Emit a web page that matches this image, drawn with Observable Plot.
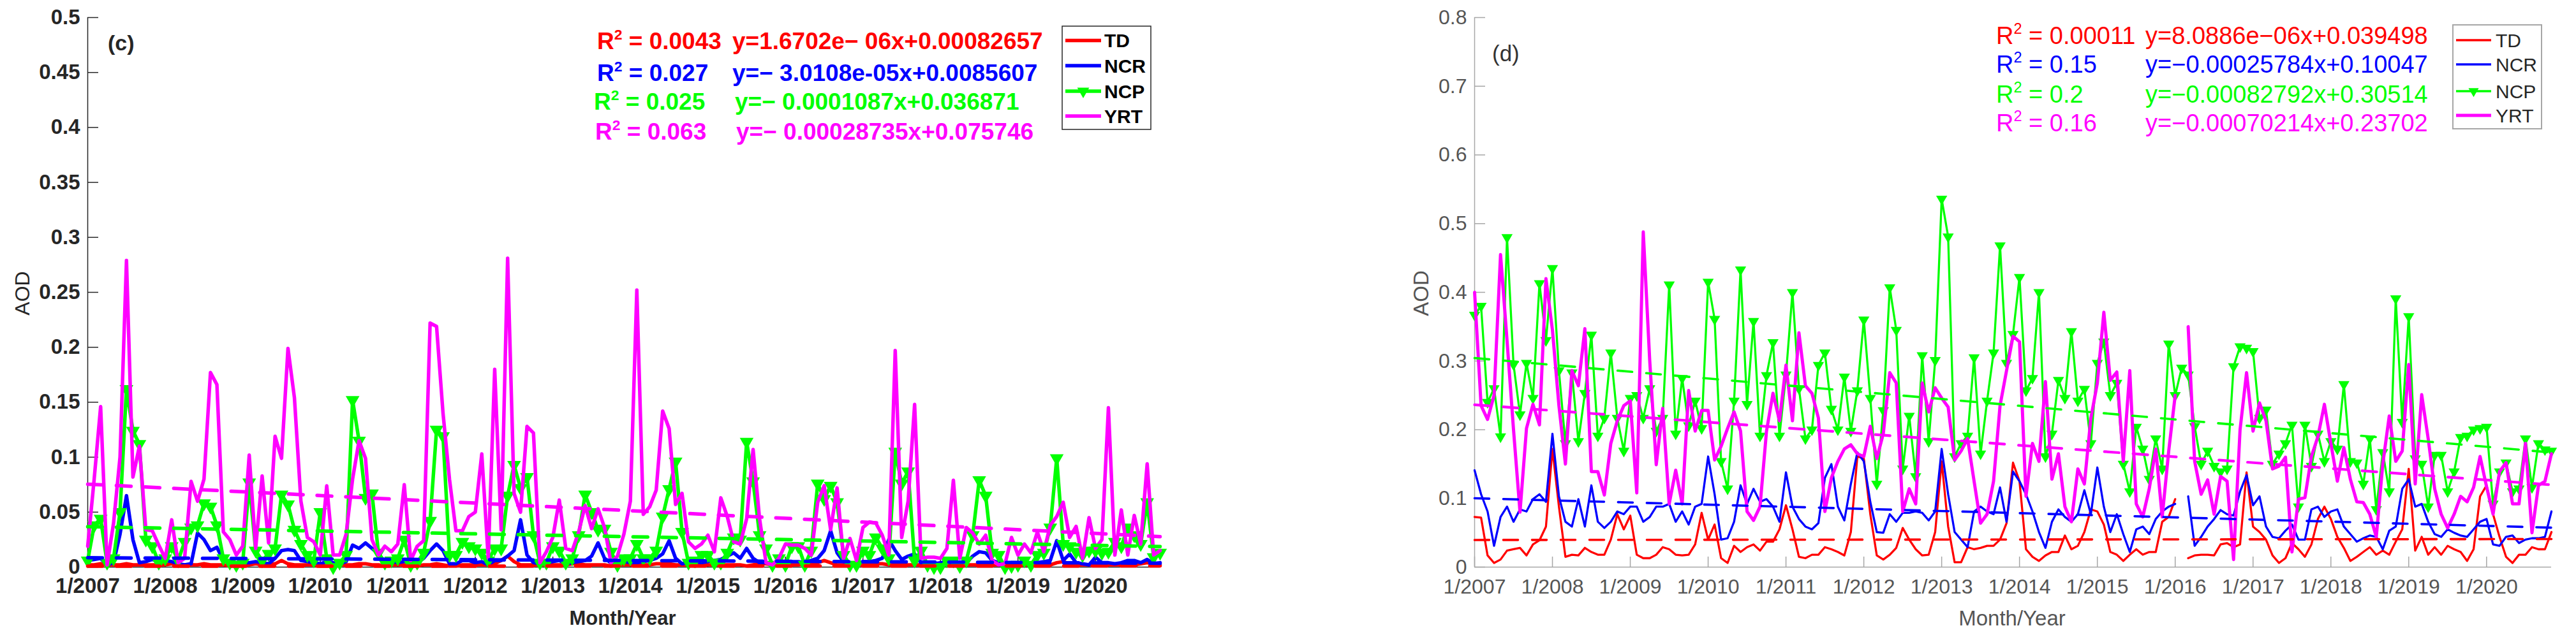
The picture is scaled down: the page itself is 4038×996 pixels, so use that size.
<!DOCTYPE html>
<html><head><meta charset="utf-8">
<script src="https://cdn.jsdelivr.net/npm/d3@7"></script>
<script src="https://cdn.jsdelivr.net/npm/@observablehq/plot@0.6"></script>
<style>
body{margin:0;background:#fff;}
#root{position:relative;width:4038px;height:996px;overflow:hidden;background:#fff;}
</style></head><body><div id="root"></div><script>
// ---------- DATA ----------
const series = ["TD","NCR","NCP","YRT"];
const colors = ["#ff0000","#0000ff","#00ff00","#ff00ff"];
const tickLabels = ["1/2007","1/2008","1/2009","1/2010","1/2011","1/2012","1/2013","1/2014","1/2015","1/2016","1/2017","1/2018","1/2019","1/2020"];
const xTickPos = [0,12,24,36,48,60,72,84,96,108,120,132,144,156];
const yTicksC = [0,0.05,0.1,0.15,0.2,0.25,0.3,0.35,0.4,0.45,0.5];
const yTicksD = [0,0.1,0.2,0.3,0.4,0.5,0.6,0.7,0.8];

// panel (c) monthly AOD, Jan 2007 .. Nov 2020
const tdC = [
.002,.002,.003,.002,.002,.002,.003,.002,.002,.002,.002,.002,
.002,.003,.002,.002,.002,.002,.003,.002,.002,.002,.001,.002,
.002,.002,.003,.002,.002,.003,.006,.003,.002,.002,.002,.002,
.001,.001,.002,.002,.002,.002,.003,.003,.002,.002,.001,.002,
.002,.002,.002,.001,.002,.002,.003,.002,.001,.001,.002,.002,
.002,.002,.002,.003,.006,.010,.005,.002,.002,.002,.002,.002,
.002,.002,.002,.003,.003,.002,.002,.002,.002,.001,.002,.002,
.002,.002,.002,.002,.003,.003,.003,.002,.002,.002,.001,.002,
.002,.002,.002,.002,.002,.002,.001,.002,.003,.003,.002,.002,
.002,.002,.002,.003,.003,.004,.006,.004,.002,.002,.002,.002,
.002,.002,.003,.003,.002,.002,.002,.002,.002,.002,.002,.002,
.002,.002,.002,.002,.002,.002,.002,.002,.002,.002,.002,.002,
.002,.002,.002,.002,.002,.002,.004,.005,.003,.002,.002,.002,
.002,.002,.002,.002,.002,.002,.002,.003,.004,.003,.002];
const ncrC = [
.006,.007,.008,.002,.004,.030,.065,.025,.004,.005,.007,.005,
.006,.005,.003,.002,.003,.031,.025,.015,.018,.006,.004,.003,
.004,.004,.005,.004,.003,.008,.015,.016,.015,.006,.005,.004,
.003,.005,.004,.003,.005,.020,.017,.022,.017,.012,.004,.005,
.004,.005,.006,.004,.008,.015,.021,.015,.003,.003,.006,.006,
.004,.005,.002,.006,.006,.010,.015,.043,.011,.004,.003,.004,
.005,.006,.003,.004,.005,.006,.010,.022,.008,.004,.004,.005,
.004,.004,.005,.006,.008,.012,.024,.008,.003,.004,.005,.004,
.005,.006,.007,.010,.013,.008,.017,.008,.004,.004,.003,.004,
.005,.005,.005,.004,.006,.008,.015,.033,.013,.005,.004,.003,
.005,.005,.006,.008,.025,.015,.007,.010,.012,.004,.003,.003,
.004,.005,.004,.003,.004,.010,.014,.013,.006,.004,.003,.004,
.003,.004,.003,.004,.005,.006,.024,.006,.012,.004,.003,.002,
.009,.004,.004,.003,.004,.006,.006,.004,.007,.003,.004];
const ncpC = [
.006,.038,.044,.004,.008,.050,.162,.124,.112,.025,.019,.004,
.008,.019,.006,.023,.036,.038,.058,.055,.038,.008,.004,.002,
.004,.077,.015,.006,.012,.017,.066,.057,.034,.021,.011,.006,
.050,.008,.000,.004,.011,.152,.115,.063,.067,.013,.004,.006,
.008,.025,.002,.004,.013,.042,.125,.119,.011,.011,.023,.019,
.017,.013,.006,.017,.017,.065,.093,.072,.082,.029,.004,.004,
.019,.015,.004,.008,.029,.066,.050,.034,.035,.014,.002,.008,
.008,.021,.008,.008,.015,.046,.071,.096,.032,.004,.006,.011,
.011,.004,.004,.013,.027,.025,.114,.078,.029,.017,.002,.008,
.002,.019,.019,.002,.015,.076,.062,.074,.059,.011,.002,.002,
.015,.011,.027,.017,.008,.105,.076,.087,.006,.015,.002,.000,
.000,.006,.006,.001,.006,.029,.079,.065,.013,.011,.000,.001,
.002,.006,.002,.011,.013,.036,.099,.021,.019,.014,.011,.015,
.015,.013,.014,.023,.019,.036,.029,.021,.059,.009,.013];
const yrtC = [
.019,.080,.146,.002,.040,.100,.279,.082,.110,.034,.033,.020,
.008,.043,.004,.008,.078,.060,.080,.177,.166,.032,.025,.011,
.019,.102,.017,.083,.022,.119,.099,.199,.154,.060,.027,.023,
.011,.074,.011,.011,.030,.080,.115,.099,.025,.011,.019,.014,
.021,.075,.006,.019,.024,.222,.219,.140,.080,.033,.033,.046,
.050,.103,.008,.180,.034,.281,.067,.050,.128,.122,.004,.014,
.027,.061,.017,.015,.032,.056,.035,.053,.036,.004,.010,.030,
.060,.252,.048,.055,.070,.142,.126,.057,.067,.023,.017,.021,
.029,.014,.063,.046,.023,.021,.044,.107,.044,.004,.002,.008,
.021,.020,.020,.017,.011,.059,.074,.034,.072,.008,.026,.006,
.036,.041,.040,.029,.011,.197,.027,.060,.148,.008,.009,.009,
.008,.017,.079,.008,.036,.031,.021,.029,.006,.002,.003,.027,
.011,.021,.013,.032,.014,.038,.046,.059,.027,.037,.008,.045,
.017,.025,.145,.011,.052,.011,.047,.021,.094,.011,.015];

// panel (d) monthly AOD, Jan 2007 .. Nov 2020 (null = missing)
const tdD = [
.073,.072,.017,.006,.011,.024,.026,.028,.017,.033,.039,.059,
.172,.088,.015,.018,.017,.028,.022,.018,.018,.040,.077,.055,
.075,.018,.013,.013,.018,.029,.026,.018,.017,.018,.033,.079,
.040,.062,.013,.006,.031,.022,.029,.033,.024,.037,.037,.055,
.090,.055,.015,.013,.018,.018,.029,.026,.022,.017,.051,.161,
.158,.077,.017,.011,.018,.028,.057,.040,.026,.017,.018,.051,
.154,.059,.007,.007,.029,.026,.028,.031,.031,.040,.064,.152,
.125,.026,.015,.009,.017,.022,.022,.046,.026,.031,.051,.084,
.081,.062,.022,.018,.009,.018,.026,.018,.022,.022,.066,.073,
.099,null,.013,.017,.018,.018,.017,.033,.035,.029,.033,.138,
.059,.051,.040,.017,.006,.013,.035,.026,.015,.033,.070,.088,
.070,.044,.028,.009,.015,.022,.029,.018,.024,.018,.037,.055,
.143,.024,.044,.018,.029,.018,.031,.026,.022,.009,.026,.103,
.119,.077,.044,.015,.006,.018,.018,.029,.026,.026,.051];
const ncrD = [
.141,.106,.081,.031,.073,.088,.066,.084,.081,.099,.106,.095,
.194,.103,.066,.059,.099,.059,.119,.066,.057,.066,.081,.077,
.088,.088,.066,.073,.088,.088,.092,.066,.081,.062,.088,.092,
.161,.106,.040,.042,.066,.119,.092,.114,.095,.099,.088,.066,
.138,.088,.070,.059,.055,.064,.130,.150,.088,.068,.121,.167,
.154,.095,.051,.050,.077,.066,.079,.079,.081,.079,.068,.081,
.172,.106,.051,.040,.029,.081,.088,.081,.077,.116,.066,.139,
.125,.106,.081,.051,.028,.066,.084,.073,.066,.077,.112,.077,
.145,.088,.051,.077,.048,.022,.055,.059,.048,.070,.081,.088,
.092,null,.103,.031,.044,.059,.070,.083,.077,.075,.110,.134,
.090,.103,.059,.044,.042,.053,.062,.040,.040,.084,.088,.073,
.081,.084,.059,.048,.037,.042,.046,.044,.026,.053,.059,.114,
.128,.088,.092,.066,.048,.044,.055,.050,.046,.044,.055,.066,
.070,.033,.031,.044,.046,.035,.040,.042,.042,.044,.081];
const ncpD = [
.367,.380,.240,.260,.190,.480,.295,.222,.297,.246,.413,.330,
.435,.286,.180,.283,.183,.253,.338,.191,.217,.312,.217,.169,
.246,.250,.217,.260,.198,.217,.411,.194,.275,.206,.242,.202,
.415,.361,.154,.114,.242,.433,.237,.358,.191,.279,.327,.191,
.280,.400,.260,.187,.200,.294,.312,.230,.200,.277,.198,.257,
.360,.246,.121,.228,.407,.345,.143,.220,.132,.308,.183,.301,
.536,.481,.161,.180,.191,.305,.165,.242,.312,.468,.297,.339,
.422,.257,.275,.400,.161,.194,.272,.246,.343,.242,.259,.180,
.297,.328,.250,.268,.150,.110,.204,.172,.128,.187,.143,.325,
.250,.290,.280,.205,.150,.169,.147,.139,.143,.292,.321,.319,
.314,.217,.229,.150,.165,.180,.207,.088,.207,.147,.194,.154,
.183,.172,.266,.154,.152,.121,.187,.084,.167,.110,.391,.211,
.365,.158,.150,.088,.163,.163,.110,.139,.189,.191,.200,.202,
.204,.092,.139,.152,.110,.114,.187,.116,.180,.171,.169];
const yrtD = [
.400,.235,.215,.250,.455,.330,.200,.080,.202,.237,.207,.420,
.345,.235,.150,.286,.264,.347,.139,.139,.105,.180,.213,.235,
.242,.108,.488,.300,.149,.231,.092,.141,.092,.257,.198,.228,
.228,.156,.176,.202,.226,.198,.081,.068,.088,.198,.253,.213,
.294,.213,.341,.264,.253,.217,.081,.130,.154,.172,.178,.165,
.161,.205,.158,.194,.283,.268,.081,.114,.092,.268,.226,.261,
.246,.233,.156,.169,.187,.125,.064,.077,.125,.235,.286,.336,
.328,.103,.180,.154,.270,.128,.165,.088,.066,.143,.121,.217,
.268,.371,.272,.284,.154,.286,.092,.073,.114,.172,.073,.169,
.250,null,.350,.154,.106,.127,.077,.132,.125,.011,.200,.283,
.198,.239,.213,.143,.147,.160,.022,.099,.101,.161,.190,.237,
.180,.125,.174,.128,.095,.094,.077,.044,.150,.220,.154,.169,
.295,.121,.251,.187,.114,.077,.057,.077,.103,.095,.116,.161,
.117,.077,.139,.152,.092,.092,.180,.050,.119,.125,.165];

// linear fits y = a*x + b (x = month number 1..167)
const slopeC = [1.6702e-06, -3.0108e-05, -0.0001087, -0.00028735];
const interceptC = [0.00082657, 0.0085607, 0.036871, 0.075746];
const slopeD = [8.0886e-06, -0.00025784, -0.00082792, -0.00070214];
const interceptD = [0.039498, 0.10047, 0.30514, 0.23702];
const r2TextC = ["0.0043","0.027","0.025","0.063"];
const eqTextC = ["y=1.6702e\u2212 06x+0.00082657","y=\u2212 3.0108e-05x+0.0085607","y=\u2212 0.0001087x+0.036871","y=\u2212 0.00028735x+0.075746"];
const r2TextD = ["0.00011","0.15","0.2","0.16"];
const eqTextD = ["y=8.0886e\u221206x+0.039498","y=\u22120.00025784x+0.10047","y=\u22120.00082792x+0.30514","y=\u22120.00070214x+0.23702"];

// ---------- DRAW ----------
const FONT = "'Liberation Sans', Arial, Helvetica, sans-serif";
const root = document.getElementById("root");
const rows = arr => arr.map((v,i)=>({m:i, v}));
const N = 167;

function panel({left, width, x0, x1, top, bottom, ymax, yTicks, data, slope, intercept, axisColor, textColor, fontSize, fontWeight, xPad, lw, dashW, triR}) {
  const mL = x0 - left, mR = left + width - x1;
  const plotW = x1 - x0, plotH = bottom - top;
  const marks = [];
  marks.push(Plot.axisY(yTicks, {tickSize: 0, tickPadding: 12, tickFormat: d => String(d), label: null}));
  marks.push(Plot.axisX(xTickPos, {tickSize: 0, tickPadding: xPad, tickFormat: d => tickLabels[xTickPos.indexOf(d)], label: null}));
  marks.push(Plot.ruleX([0], {stroke: axisColor, strokeWidth: 1.5}));
  marks.push(Plot.ruleY([0], {stroke: axisColor, strokeWidth: 1.5}));
  marks.push(Plot.tickY(yTicks, {y: d => d, stroke: axisColor, strokeWidth: 1.5, insetRight: plotW - 17}));
  marks.push(Plot.tickX(xTickPos, {x: d => d, stroke: axisColor, strokeWidth: 1.5, insetTop: plotH - 16}));
  data.forEach((arr, i) => {
    marks.push(Plot.line(rows(arr), {x: "m", y: "v", stroke: colors[i], strokeWidth: lw[i], strokeLinejoin: "round", strokeLinecap: "round"}));
    if (series[i] === "NCP") marks.push(Plot.dot(rows(arr), {x: "m", y: "v", symbol: "triangle", rotate: 180, r: triR, fill: colors[i], stroke: "none"}));
  });
  data.forEach((arr, i) => {
    const ends = [0, N - 1].map(m => ({m, v: intercept[i] + slope[i] * (m + 1)}));
    marks.push(Plot.line(ends, {x: "m", y: "v", stroke: colors[i], strokeWidth: dashW[i], strokeDasharray: "23,22"}));
  });
  const svg = Plot.plot({
    width, height: 996,
    marginLeft: mL, marginRight: mR, marginTop: top, marginBottom: 996 - bottom,
    x: {domain: [0, N - 1], label: null},
    y: {domain: [0, ymax], label: null},
    style: {fontFamily: FONT, fontSize: fontSize + "px", fontWeight, color: textColor, background: "transparent", overflow: "visible", maxWidth: "none"},
    marks
  });
  svg.style.position = "absolute";
  svg.style.left = left + "px";
  svg.style.top = "0px";
  root.appendChild(svg);
}

panel({left: 0, width: 1900, x0: 137, x1: 1818, top: 27, bottom: 889, ymax: 0.5, yTicks: yTicksC,
  data: [tdC, ncrC, ncpC, yrtC], slope: slopeC, intercept: interceptC,
  axisColor: "#262626", textColor: "#262626", fontSize: 33, fontWeight: "bold", xPad: 17,
  lw: [5.5, 5.5, 5.5, 5.5], dashW: [5.5, 5.5, 5.5, 5.5], triR: 8});

panel({left: 2150, width: 1888, x0: 2311, x1: 3999, top: 27, bottom: 889, ymax: 0.8, yTicks: yTicksD,
  data: [tdD, ncrD, ncpD, yrtD], slope: slopeD, intercept: interceptD,
  axisColor: "#a6a6a6", textColor: "#555555", fontSize: 32, fontWeight: "normal", xPad: 19,
  lw: [3.3, 3.3, 3.3, 5], dashW: [3.6, 3.6, 3.6, 4.2], triR: 6.5});

// ---------- overlay text & legends ----------
const ov = d3.create("svg").attr("width", 4038).attr("height", 996)
  .style("position", "absolute").style("left", "0px").style("top", "0px")
  .attr("font-family", FONT);

function text(x, cy, str, {size, weight = "normal", fill = "#262626", anchor = "start", rotate = 0}) {
  const t = ov.append("text").attr("x", x).attr("y", cy).attr("dy", "0.36em")
    .attr("font-size", size).attr("font-weight", weight).attr("fill", fill).attr("text-anchor", anchor).text(str);
  if (rotate) t.attr("transform", `rotate(${rotate},${x},${cy})`);
  return t;
}
function r2(x, cy, val, {size, weight, fill}) {
  const t = ov.append("text").attr("x", x).attr("y", cy).attr("dy", "0.36em")
    .attr("font-size", size).attr("font-weight", weight).attr("fill", fill);
  t.append("tspan").text("R");
  t.append("tspan").attr("font-size", size * 0.62).attr("dy", -size * 0.42).text("2");
  t.append("tspan").attr("dy", size * 0.42).text(" = " + val);
}

// panel (c)
text(169, 67, "(c)", {size: 34, weight: "bold"});
text(34, 460, "AOD", {size: 32, anchor: "middle", rotate: -90});
text(976, 969, "Month/Year", {size: 31, weight: "bold", anchor: "middle"});
const cyC = [64, 114, 159, 206], r2xC = [936, 936, 931, 933], eqxC = [1148, 1148, 1152, 1154];
series.forEach((s, i) => {
  r2(r2xC[i], cyC[i], r2TextC[i], {size: 37, weight: "bold", fill: colors[i]});
  text(eqxC[i], cyC[i], eqTextC[i], {size: 37, weight: "bold", fill: colors[i]});
});

// panel (d)
text(2339, 83, "(d)", {size: 35, fill: "#333"});
text(2227, 460, "AOD", {size: 33, anchor: "middle", rotate: -90, fill: "#555"});
text(3154, 969, "Month/Year", {size: 33, anchor: "middle", fill: "#555"});
const cyD = [55, 100, 147, 192];
series.forEach((s, i) => {
  r2(3129, cyD[i], r2TextD[i], {size: 38, weight: "normal", fill: colors[i]});
  text(3363, cyD[i], eqTextD[i], {size: 38, fill: colors[i]});
});

function legend({x, y, w, h, border, bw, rowsCY, lx0, lx1, tx, fs, weight, tcolor, lw, triR}) {
  ov.append("rect").attr("x", x).attr("y", y).attr("width", w).attr("height", h)
    .attr("fill", "#fff").attr("stroke", border).attr("stroke-width", bw);
  series.forEach((s, i) => {
    const cy = rowsCY[i];
    ov.append("line").attr("x1", lx0).attr("x2", lx1).attr("y1", cy).attr("y2", cy)
      .attr("stroke", colors[i]).attr("stroke-width", lw[i]);
    if (s === "NCP") ov.append("path").attr("d", d3.symbol(d3.symbolTriangle, triR * triR * Math.PI)())
      .attr("transform", `translate(${(lx0 + lx1) / 2},${cy}) rotate(180)`).attr("fill", colors[i]);
    text(tx, cy, s, {size: fs, weight, fill: tcolor});
  });
}
legend({x: 1665, y: 41, w: 139, h: 162, border: "#262626", bw: 1.5, rowsCY: [63.5, 103, 143, 182],
  lx0: 1670, lx1: 1726, tx: 1731, fs: 30, weight: "bold", tcolor: "#000", lw: [5.5, 5.5, 5.5, 5.5], triR: 7});
legend({x: 3845, y: 39, w: 139, h: 163, border: "#a6a6a6", bw: 2, rowsCY: [63, 101, 143, 181],
  lx0: 3850, lx1: 3905, tx: 3912, fs: 30, weight: "normal", tcolor: "#262626", lw: [3.3, 3.3, 3.3, 5], triR: 6});

root.appendChild(ov.node());
</script></body></html>
